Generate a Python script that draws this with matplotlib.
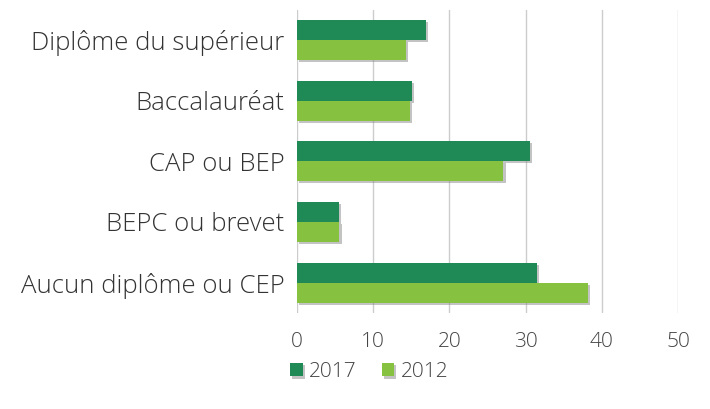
import matplotlib
matplotlib.use("Agg")
import matplotlib.pyplot as plt
import matplotlib.patheffects as pe
import numpy as np

# categories from top to bottom in the picture
categories = ["Diplôme du supérieur", "Baccalauréat", "CAP ou BEP", "BEPC ou brevet", "Aucun diplôme ou CEP"]
values_2017 = [17.0, 15.1, 30.6, 5.5, 31.5]
values_2012 = [14.3, 14.8, 27.1, 5.6, 38.2]
xticks = [0, 10, 20, 30, 40, 50]

plt.rcParams['font.family'] = ['Open Sans', 'DejaVu Sans']
plt.rcParams['font.weight'] = 'light'

fig = plt.figure(figsize=(7.10, 4.09), dpi=100)
ax = fig.add_axes([0.418, 0.235, 0.537, 0.741])

y = np.arange(len(categories))
h = 0.33
shadow = [pe.SimplePatchShadow(offset=(1.5, -1.5), shadow_rgbFace="#888888", alpha=0.5), pe.Normal()]
b1 = ax.barh(y - h / 2, values_2017, height=h, color="#1f8a55", label="2017", zorder=3)
b2 = ax.barh(y + h / 2, values_2012, height=h, color="#86c13f", label="2012", zorder=3)
for b in list(b1) + list(b2):
    b.set_path_effects(shadow)

ax.set_ylim(len(categories) - 0.5, -0.5)
ax.set_xlim(0, 50)
ax.set_yticks(y)
ax.set_yticklabels(categories, fontsize=18.5, color="#333333")
ax.set_xticks(xticks)
ax.set_xticklabels([str(t) for t in xticks], fontsize=15, color="#444444")
ax.tick_params(length=0)
ax.tick_params(axis="y", pad=9)
ax.tick_params(axis="x", pad=14)
ax.grid(axis="x", color="#cccccc", linewidth=1, zorder=0)
for s in ax.spines.values():
    s.set_visible(False)

fig.legend(handles=[b1, b2], labels=["2017", "2012"], loc="center", bbox_to_anchor=(0.52, 0.09),
           ncol=2, frameon=False, fontsize=15, handlelength=0.6, handleheight=0.6,
           handletextpad=0.3, columnspacing=1.2, labelcolor="#444444")

fig.savefig("out.png", dpi=100, facecolor="white")
